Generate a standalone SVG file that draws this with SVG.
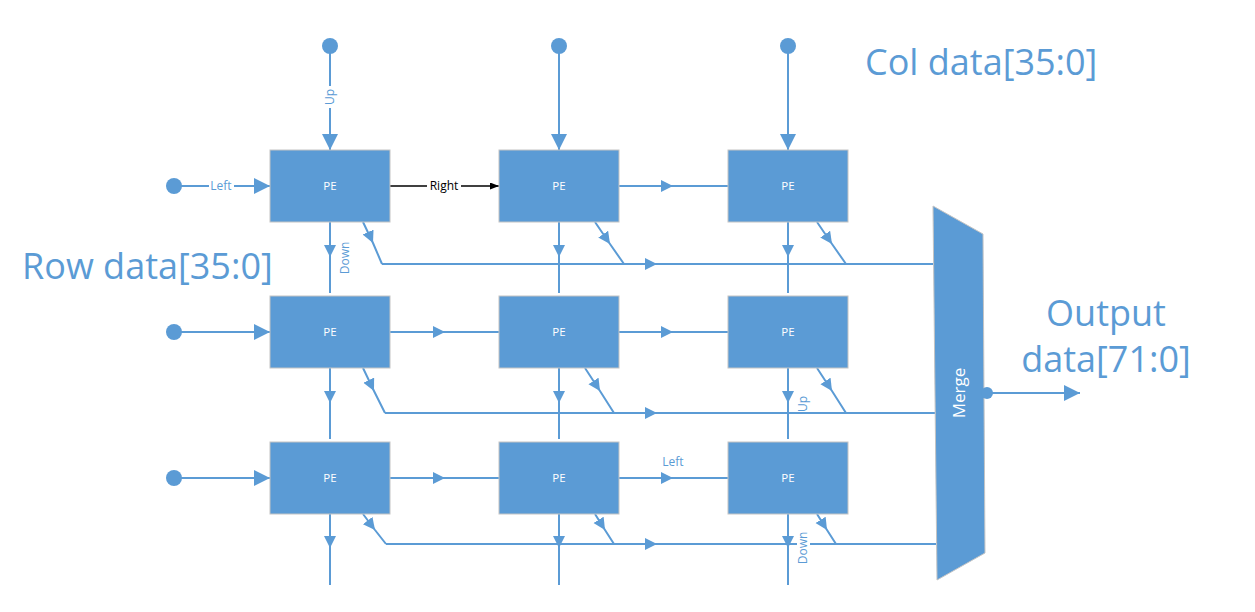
<svg xmlns="http://www.w3.org/2000/svg" width="1255" height="612" viewBox="0 0 1255 612">
<style>
.pe{fill:#5B9BD5;stroke:#c4c4c4;stroke-width:1}
.pet{font-family:'Open Sans',sans-serif;font-size:11.5px;fill:#ffffff;text-anchor:middle}
.ln{fill:none;stroke:#5B9BD5;stroke-width:2}
.mid{marker-mid:url(#mid)}
.end{marker-end:url(#big)}
.dot{fill:#5B9BD5}
.lbl{font-family:'Open Sans',sans-serif;font-size:12px;fill:#5B9BD5;text-anchor:middle}
.big{font-family:'Open Sans',sans-serif;font-size:36px;fill:#5B9BD5}
.bg{fill:#ffffff}
</style>
<defs>
<marker id="big" markerUnits="userSpaceOnUse" markerWidth="16" markerHeight="16" refX="16" refY="8" orient="auto"><path d="M0,0 L16,8 L0,16 z" fill="#5B9BD5"/></marker>
<marker id="mid" markerUnits="userSpaceOnUse" markerWidth="13" markerHeight="13" refX="12" refY="6" orient="auto"><path d="M0,0 L12,6 L0,12 z" fill="#5B9BD5"/></marker>
<marker id="blk" markerUnits="userSpaceOnUse" markerWidth="10" markerHeight="8" refX="9" refY="3.5" orient="auto"><path d="M0,0 L9,3.5 L0,7 z" fill="#000000"/></marker>
</defs>
<rect width="1255" height="612" fill="#ffffff"/>
<g id="connectors">
<path class="ln end" d="M330,46 L330,150"/>
<path class="ln end" d="M559,46 L559,150"/>
<path class="ln end" d="M788,46 L788,150"/>
<path class="ln end" d="M174,186 L270,186"/>
<path class="ln end" d="M174,332 L270,332"/>
<path class="ln end" d="M174,478 L270,478"/>
<path d="M390,186 L499,186" fill="none" stroke="#000000" stroke-width="1.3" marker-end="url(#blk)"/>
<path class="ln mid" d="M619,186 L673,186 L728,186"/>
<path class="ln mid" d="M390,332 L445,332 L499,332"/>
<path class="ln mid" d="M619,332 L673,332 L728,332"/>
<path class="ln mid" d="M390,478 L445,478 L499,478"/>
<path class="ln mid" d="M619,478 L673,478 L728,478"/>
<path class="ln mid" d="M330,222 L330,257 L330,293"/>
<path class="ln mid" d="M559,222 L559,257 L559,293"/>
<path class="ln mid" d="M788,222 L788,257 L788,293"/>
<path class="ln mid" d="M330,368 L330,403 L330,439"/>
<path class="ln mid" d="M559,368 L559,403 L559,439"/>
<path class="ln mid" d="M788,368 L788,403 L788,439"/>
<path class="ln mid" d="M330,514 L330,548 L330,585"/>
<path class="ln mid" d="M559,514 L559,548 L559,585"/>
<path class="ln mid" d="M788,514 L788,548 L788,585"/>
<path class="ln mid" d="M363,222 L373,243 L382,264"/>
<path class="ln mid" d="M595,222 L610,244 L624,264"/>
<path class="ln mid" d="M817,222 L832,244 L846,264"/>
<path class="ln mid" d="M382,264 L657,264 L933,264"/>
<path class="ln mid" d="M363,368 L374,391 L385,413"/>
<path class="ln mid" d="M585,368 L600,391 L614,413"/>
<path class="ln mid" d="M817,368 L832,391 L846,413"/>
<path class="ln mid" d="M385,413 L657,413 L935,413"/>
<path class="ln mid" d="M363,514 L375,530 L386,544"/>
<path class="ln mid" d="M595,514 L605,530 L614,544"/>
<path class="ln mid" d="M817,514 L827,530 L836,544"/>
<path class="ln mid" d="M386,544 L657,544 L936,544"/>
<path class="ln end" d="M987,393 L1080,393"/>
<rect class="bg" x="324" y="86" width="12" height="22"/>
<text class="lbl" transform="translate(330,97) rotate(-90)" dy="0.35em">Up</text>
<rect class="bg" x="209" y="179" width="25" height="14"/>
<text class="lbl" x="221" y="186" dy="0.35em">Left</text>
<rect class="bg" x="427" y="179" width="34" height="14"/>
<text x="444" y="186" dy="0.35em" font-family="'Open Sans',sans-serif" font-size="12" fill="#000000" text-anchor="middle">Right</text>
<text class="lbl" transform="translate(345,258) rotate(-90)" dy="0.35em">Down</text>
<text class="lbl" transform="translate(803,404) rotate(-90)" dy="0.35em">Up</text>
<text class="lbl" x="673" y="462" dy="0.35em">Left</text>
<rect class="bg" x="797" y="530" width="13" height="36"/>
<text class="lbl" transform="translate(803,548) rotate(-90)" dy="0.35em">Down</text>
</g>
<g id="inputs">
<circle class="dot" cx="330" cy="46" r="8"/>
<circle class="dot" cx="559" cy="46" r="8"/>
<circle class="dot" cx="788" cy="46" r="8"/>
<circle class="dot" cx="174" cy="186" r="8"/>
<circle class="dot" cx="174" cy="332" r="8"/>
<circle class="dot" cx="174" cy="478" r="8"/>
</g>
<g id="pe-r1c1"><rect class="pe" x="270" y="150" width="120" height="72"/><text class="pet" x="330" y="186" dy="0.35em">PE</text></g>
<g id="pe-r1c2"><rect class="pe" x="499" y="150" width="120" height="72"/><text class="pet" x="559" y="186" dy="0.35em">PE</text></g>
<g id="pe-r1c3"><rect class="pe" x="728" y="150" width="120" height="72"/><text class="pet" x="788" y="186" dy="0.35em">PE</text></g>
<g id="pe-r2c1"><rect class="pe" x="270" y="296" width="120" height="72"/><text class="pet" x="330" y="332" dy="0.35em">PE</text></g>
<g id="pe-r2c2"><rect class="pe" x="499" y="296" width="120" height="72"/><text class="pet" x="559" y="332" dy="0.35em">PE</text></g>
<g id="pe-r2c3"><rect class="pe" x="728" y="296" width="120" height="72"/><text class="pet" x="788" y="332" dy="0.35em">PE</text></g>
<g id="pe-r3c1"><rect class="pe" x="270" y="442" width="120" height="72"/><text class="pet" x="330" y="478" dy="0.35em">PE</text></g>
<g id="pe-r3c2"><rect class="pe" x="499" y="442" width="120" height="72"/><text class="pet" x="559" y="478" dy="0.35em">PE</text></g>
<g id="pe-r3c3"><rect class="pe" x="728" y="442" width="120" height="72"/><text class="pet" x="788" y="478" dy="0.35em">PE</text></g>
<g id="merge">
<polygon class="pe" points="933,206 983,234 985,553 937,580"/>
<text transform="translate(959,393) rotate(-90)" dy="0.35em" font-family="'Open Sans',sans-serif" font-size="17" fill="#ffffff" text-anchor="middle">Merge</text>
<circle class="dot" cx="987" cy="393" r="6"/>
</g>
<g id="titles">
<text class="big" x="865" y="75">Col data[35:0]</text>
<text class="big" x="22" y="279">Row data[35:0]</text>
<text class="big" x="1106" y="326" text-anchor="middle">Output</text>
<text class="big" x="1106" y="372" text-anchor="middle">data[71:0]</text>
</g>
</svg>
